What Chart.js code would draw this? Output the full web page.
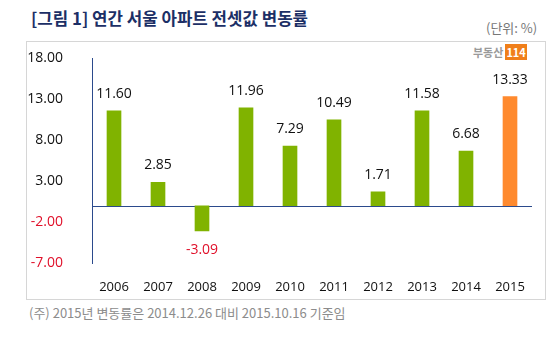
<!DOCTYPE html>
<html>
<head>
<meta charset="utf-8">
<script src="https://cdn.jsdelivr.net/npm/chart.js@4"></script>
<style>
  body { margin: 0; background: #fff; width: 560px; height: 354px; position: relative; overflow: hidden; }
  .title { position: absolute; left: 31px; top: 6px; font: bold 16.8px "Noto Sans CJK KR"; color: #1c2f66; }
  .unit { position: absolute; left: 486px; top: 18px; font: 13px "Noto Sans CJK KR"; color: #777; }
  .box { position: absolute; left: 26px; top: 41px; width: 518px; height: 257px; border: 1px solid #d6d6d6; }
  .logo { position: absolute; left: 473px; top: 44px; font: bold 11px "Noto Sans CJK KR"; color: #9a9a9a; }
  .logo span { background: #f07f1a; color: #fff; padding: 0 1px; margin-left: 2px; }
  .note { position: absolute; left: 29px; top: 303px; font: 13px "Noto Sans CJK KR"; color: #8c8c8c; }
  canvas { position: absolute; left: 26px; top: 29px; }
</style>
</head>
<body>
<div class="title">[그림 1] 연간 서울 아파트 전셋값 변동률</div>
<div class="unit">(단위: %)</div>
<div class="box"></div>
<div class="logo">부동산<span>114</span></div>
<canvas id="chart" width="519" height="270"></canvas>
<div class="note">(주) 2015년 변동률은 2014.12.26 대비 2015.10.16 기준임</div>
<script>
// Data
const years = ['2006', '2007', '2008', '2009', '2010', '2011', '2012', '2013', '2014', '2015'];
const changeRates = [11.60, 2.85, -3.09, 11.96, 7.29, 10.49, 1.71, 11.58, 6.68, 13.33];
const yTicks = [-7, -2, 3, 8, 13, 18];

const green = '#80b300';
const orange = '#ff8a2e';
const red = '#e0102a';
const axisBlue = '#2b4a8c';

// zero line across the plot
const zeroLine = {
  id: 'zeroLine',
  beforeDatasetsDraw(chart) {
    const { ctx, chartArea } = chart;
    const y = Math.round(chart.scales.y.getPixelForValue(0)) + 0.5;
    ctx.save();
    ctx.strokeStyle = axisBlue;
    ctx.lineWidth = 1;
    ctx.beginPath();
    ctx.moveTo(chartArea.left, y);
    ctx.lineTo(chartArea.right, y);
    ctx.stroke();
    ctx.restore();
  }
};

// value labels above/below bars
const valueLabels = {
  id: 'valueLabels',
  afterDatasetsDraw(chart) {
    const ctx = chart.ctx;
    const meta = chart.getDatasetMeta(0);
    ctx.save();
    ctx.font = '14px "Open Sans"';
    ctx.textAlign = 'center';
    ctx.textBaseline = 'middle';
    meta.data.forEach((bar, i) => {
      const v = changeRates[i];
      if (v < 0) {
        ctx.fillStyle = red;
        ctx.fillText(v.toFixed(2), bar.x, bar.y + 19);
      } else {
        ctx.fillStyle = '#111';
        ctx.fillText(v.toFixed(2), bar.x, bar.y - 17);
      }
    });
    ctx.restore();
  }
};

new Chart(document.getElementById('chart'), {
  type: 'bar',
  data: {
    labels: years,
    datasets: [{
      data: changeRates,
      backgroundColor: changeRates.map((v, i) => i === changeRates.length - 1 ? orange : green),
      barThickness: 14
    }]
  },
  options: {
    responsive: false,
    animation: false,
    layout: { padding: { top: 2, right: 13, left: 0, bottom: 0 } },
    plugins: { legend: { display: false }, tooltip: { enabled: false } },
    scales: {
      x: {
        grid: { display: false },
        border: { display: false },
        ticks: { color: '#111', font: { family: 'Open Sans', size: 13 }, padding: 8 },
        afterFit(scale) { scale.height = 36; }
      },
      y: {
        min: -7,
        max: 18,
        afterBuildTicks(scale) { scale.ticks = yTicks.map(v => ({ value: v })); },
        grid: { display: false },
        border: { display: true, color: axisBlue },
        ticks: {
          padding: 21,
          color: ctx => ctx.tick.value < 0 ? red : '#111',
          font: { family: 'Open Sans', size: 14 },
          callback: v => v.toFixed(2)
        },
        afterFit(scale) { scale.width = 66; }
      }
    }
  },
  plugins: [zeroLine, valueLabels]
});
</script>
</body>
</html>
